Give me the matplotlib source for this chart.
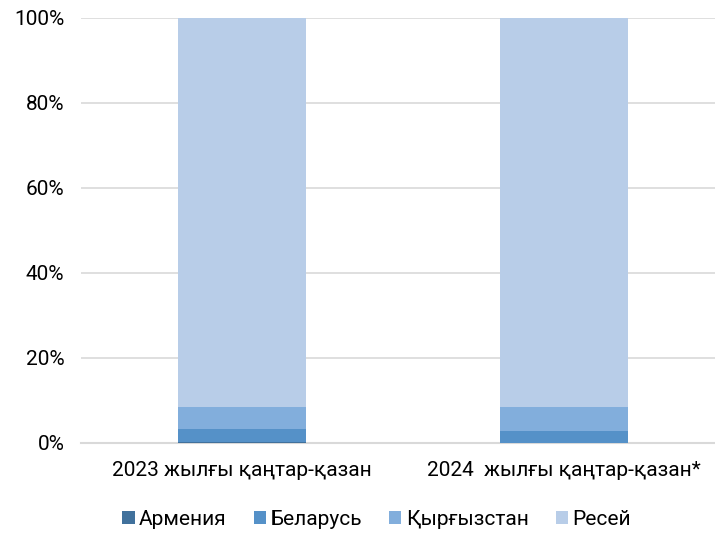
import numpy as np
import matplotlib.pyplot as plt

plt.rcParams['font.family'] = ['Roboto', 'DejaVu Sans']

categories = ['2023 жылғы қаңтар-қазан', '2024  жылғы қаңтар-қазан*']
armenia = [0.2, 0.1]
belarus = [3.2, 2.8]
kyrgyzstan = [5.1, 5.6]
russia = [91.5, 91.5]

series = [('Армения', armenia, '#41719C'),
          ('Беларусь', belarus, '#5591C8'),
          ('Қырғызстан', kyrgyzstan, '#82AEDC'),
          ('Ресей', russia, '#B8CDE8')]

fig = plt.figure(figsize=(7.15, 5.33), dpi=100)
ax = fig.add_axes([0.1133, 0.1689, 0.9007, 0.7974])

x = np.arange(len(categories))
bottom = np.zeros(len(categories))
for name, vals, col in series:
    ax.bar(x, vals, 0.4, bottom=bottom, color=col, label=name, zorder=3)
    bottom += np.array(vals)

ax.set_ylim(0, 100)
ax.set_xlim(-0.5, 1.5)
ax.set_yticks(np.arange(0, 101, 20))
ax.set_yticklabels([f'{v}%' for v in range(0, 101, 20)])
ax.set_xticks(x)
ax.set_xticklabels(categories)
ax.grid(axis='y', color='#D9D9D9', linewidth=1.2, zorder=0)
for s in ['top', 'right', 'left']:
    ax.spines[s].set_visible(False)
ax.spines['bottom'].set_color('#D9D9D9')
ax.spines['bottom'].set_linewidth(1.5)
ax.tick_params(axis='x', length=0, labelsize=15, colors='#000000', pad=13)
ax.tick_params(axis='y', length=0, labelsize=15, colors='#000000', pad=12)

ax.legend(loc='center', bbox_to_anchor=(0.459, -0.18), ncol=4, frameon=False,
          fontsize=15, handlelength=0.6, handleheight=0.6, handletextpad=0.2,
          columnspacing=1.3, borderpad=0)

fig.savefig('out.png', dpi=100)
